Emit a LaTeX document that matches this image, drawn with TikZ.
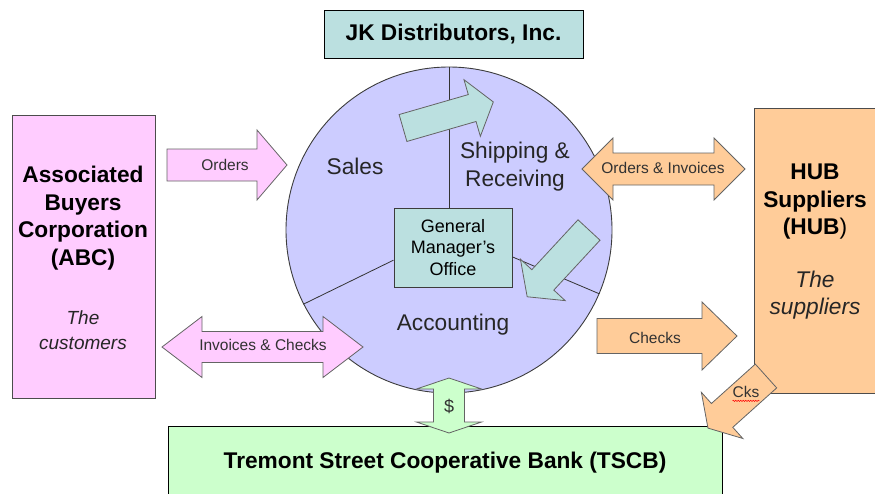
\documentclass[tikz,border=0pt]{standalone}
\usepackage{fontspec}
\setmainfont{Liberation Sans}
\usetikzlibrary{decorations.pathmorphing}

\definecolor{lav}{RGB}{204,204,255}
\definecolor{pinkfill}{RGB}{255,204,255}
\definecolor{orangefill}{RGB}{255,204,153}
\definecolor{tealfill}{RGB}{187,224,224}
\definecolor{greenfill}{RGB}{204,255,204}
\definecolor{edge}{RGB}{60,60,60}
\definecolor{arrowedge}{RGB}{100,100,100}
\definecolor{labelgray}{RGB}{50,50,50}

\newcommand\boldtxt{\fontsize{22.7}{27.5}\selectfont\bfseries}
\newcommand\regtxt{\fontsize{22.7}{28}\selectfont}
\newcommand\smalltxt{\fontsize{15.5}{18}\selectfont}

\tikzset{
  box/.style={draw=edge, line width=0.9pt, inner sep=0pt},
  region/.style={font=\regtxt, text=black!85, align=center, inner sep=0pt},
  arrowlabel/.style={font=\smalltxt, text=labelgray, inner sep=0pt},
  divider/.style={draw=black!80, line width=0.8pt},
  blockarrow/.style={draw=arrowedge, line width=0.8pt, line join=miter},
  % single block arrow: length / shaft half-width / head half-width / head length
  pics/rarrow/.style args={#1/#2/#3/#4}{code={
    \path[pic actions] (0,-#2) -- ({#1-#4},-#2) -- ({#1-#4},-#3) -- (#1,0)
      -- ({#1-#4},#3) -- ({#1-#4},#2) -- (0,#2) -- cycle;}},
  % double block arrow with the same parameters
  pics/darrow/.style args={#1/#2/#3/#4}{code={
    \path[pic actions] (0,0) -- (#4,-#3) -- (#4,-#2) -- ({#1-#4},-#2) -- ({#1-#4},-#3)
      -- (#1,0) -- ({#1-#4},#3) -- ({#1-#4},#2) -- (#4,#2) -- (#4,#3) -- cycle;}},
}

\begin{document}
\begin{tikzpicture}[x=1pt,y=-1pt]
  \useasboundingbox (0,0) rectangle (875,493);
  \clip (0,0) rectangle (875,493);

  % company title
  \node[box, draw=black, fill=tealfill, minimum width=259pt, minimum height=48pt,
        font=\boldtxt] (title) at (453.5,34) {JK Distributors, Inc.};

  % customer and supplier panels
  \node[box, draw=black!70, fill=pinkfill, minimum width=143pt, minimum height=283pt]
    (abc) at (83.5,256.5) {};
  \node[font=\boldtxt, align=center, inner sep=0pt] (abcname) at (83,218)
    {Associated\\Buyers\\Corporation\\(ABC)};
  \node[font=\fontsize{19}{25}\selectfont\itshape, text=black!85, align=center,
        inner sep=0pt] (abcrole) at (83,330) {The\\customers};

  \node[box, draw=black!70, fill=orangefill, minimum width=130pt, minimum height=285pt]
    (hub) at (819,250.5) {};
  \node[font=\boldtxt, align=center, inner sep=0pt] (hubname) at (815,202)
    {HUB\\Suppliers\\(HUB\textmd{)}};
  \node[font=\fontsize{22.7}{27.5}\selectfont\itshape, text=black!85, align=center,
        inner sep=0pt] (hubrole) at (815,295) {The\\suppliers};

  % bank
  \node[box, draw=black, fill=greenfill, minimum width=554pt, minimum height=80pt]
    (bank) at (445,466) {};
  \node[font=\boldtxt, inner sep=0pt] (bankname) at (445,463)
    {Tremont Street Cooperative Bank (TSCB)};

  % the company: circle split into departments
  \node[circle, draw=edge, line width=0.9pt, fill=lav, minimum size=326pt,
        inner sep=0pt] (jk) at (449,230) {};
  \node[box, fill=tealfill, minimum width=118pt, minimum height=79pt,
        font=\fontsize{18}{21.5}\selectfont, align=center] (gm) at (453,247.5)
    {General\\Manager’s\\Office};
  \draw[divider] (jk.north) -- (jk.north |- gm.north);
  \draw[divider] (gm.192) -- (jk.207);
  \draw[divider] (gm.351) -- (jk.337);

  \node[region] (sales) at (355,166) {Sales};
  \node[region] (ship) at (515,167) {Shipping \&\\Receiving};
  \node[region] (acct) at (453,325) {Accounting};

  % internal work flow
  \pic[blockarrow, fill=tealfill, rotate=16.1] at (403,128) {rarrow=94/14/29.5/22};
  \pic[blockarrow, fill=tealfill, rotate=227.2] at (589,230) {rarrow=91/15/30.5/23};

  % flows with customers
  \pic[blockarrow, fill=pinkfill] at (167,165) {rarrow=120/16/35/30};
  \node[arrowlabel] (orders) at (225,165) {Orders};
  \pic[blockarrow, fill=pinkfill] at (162,347) {darrow=201/15.5/30.5/40};
  \node[arrowlabel] (invchk) at (263,345) {Invoices \& Checks};

  % flows with suppliers
  \pic[blockarrow, fill=orangefill] at (582,169) {darrow=163/16/31/31};
  \node[arrowlabel] (ordinv) at (663,168) {Orders \& Invoices};
  \pic[blockarrow, fill=orangefill] at (597,336) {rarrow=140/17.5/34/35};
  \node[arrowlabel] (checks) at (655,338) {Checks};

  % bank transfers
  \pic[blockarrow, fill=greenfill, rotate=-90] at (449,378) {darrow=55/15.5/32.5/11};
  \node[arrowlabel, font=\fontsize{18}{20}\selectfont] (dollar) at (449,406) {\$};

  \pic[blockarrow, fill=orangefill, rotate=221.9] at (766,376) {rarrow=78/16/31/19};
  \node[arrowlabel] (cks) at (746,392) {Cks};
  \draw[red, line width=0.5pt, decorate,
        decoration={snake, amplitude=0.7pt, segment length=2.5pt}]
    ([yshift=-3pt]cks.south west) -- ([yshift=-3pt]cks.south east);
\end{tikzpicture}
\end{document}
